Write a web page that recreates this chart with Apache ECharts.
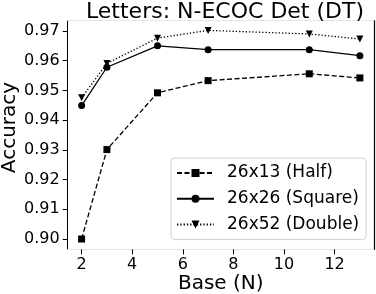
<!DOCTYPE html>
<html>
<head>
<meta charset="utf-8">
<script src="https://cdn.jsdelivr.net/npm/echarts@6/dist/echarts.min.js"></script>
<style>
html,body{margin:0;padding:0;background:#fff;}
#c{width:376px;height:294px;}
</style>
</head>
<body>
<div id="c"></div>
<script>
const baseN = [2, 3, 5, 7, 11, 13];
const half = [0.9000, 0.9301, 0.9492, 0.9533, 0.9556, 0.9542];
const square = [0.9449, 0.9578, 0.9650, 0.9637, 0.9637, 0.9617];
const double = [0.9475, 0.9591, 0.9676, 0.9702, 0.9690, 0.9673];
const xTicks = [2, 4, 6, 8, 10, 12];
const yTicks = [0.90, 0.91, 0.92, 0.93, 0.94, 0.95, 0.96, 0.97];
const seriesNames = ['26x13 (Half)', '26x26 (Square)', '26x52 (Double)'];

const FONT = 'DejaVu Sans';
const pair = arr => baseN.map((x, i) => [x, arr[i]]);

const chart = echarts.init(document.getElementById('c'), null, {renderer: 'canvas'});
chart.setOption({
  animation: false,
  backgroundColor: '#fff',
  title: {
    text: 'Letters: N-ECOC Det (DT)',
    left: 220, textAlign: 'center', top: -4,
    textStyle: {fontFamily: FONT, fontSize: 22, fontWeight: 'normal', color: '#000'}
  },
  grid: {left: 67.7, right: 2.2, top: 20.6, bottom: 44.6, containLabel: false, outerBoundsMode: 'none'},
  xAxis: [{
    type: 'value', min: 1.45, max: 13.55,
    name: 'Base (N)', nameLocation: 'middle', nameGap: 24, nameMoveOverlap: false,
    nameTextStyle: {fontFamily: FONT, fontSize: 20, color: '#000'},
    axisLine: {show: true, onZero: false, lineStyle: {color: '#e6e6e6', width: 1}},
    axisTick: {show: true, length: 5, customValues: xTicks, lineStyle: {color: '#000', width: 1}},
    axisLabel: {customValues: xTicks, margin: 7, fontFamily: FONT, fontSize: 16, color: '#000'},
    splitLine: {show: false}
  }, {
    type: 'value', position: 'top', min: 1.45, max: 13.55,
    axisLine: {show: true, onZero: false, lineStyle: {color: '#e6e6e6', width: 1}},
    axisTick: {show: false}, axisLabel: {show: false}, splitLine: {show: false}
  }],
  yAxis: [{
    type: 'value', min: 0.8965, max: 0.9735,
    name: 'Accuracy', nameLocation: 'middle', nameGap: 48, nameRotate: 90, nameMoveOverlap: false,
    nameTextStyle: {fontFamily: FONT, fontSize: 20, color: '#000', padding: [0, 0, 0, 15]},
    axisLine: {show: true, onZero: false, lineStyle: {color: '#000', width: 1}},
    axisTick: {show: true, length: 5, customValues: yTicks, lineStyle: {color: '#000', width: 1}},
    axisLabel: {customValues: yTicks, margin: 8, fontFamily: FONT, fontSize: 16, color: '#000',
      formatter: v => v.toFixed(2)},
    splitLine: {show: false}
  }, {
    type: 'value', position: 'right', min: 0.8965, max: 0.9735,
    axisLine: {show: true, onZero: false, lineStyle: {color: '#000', width: 1.2}},
    axisTick: {show: false}, axisLabel: {show: false}, splitLine: {show: false}
  }],
  legend: {
    orient: 'vertical', left: 171, top: 158,
    padding: [6, 7, 6, 5], itemGap: 7.8, itemWidth: 37, itemHeight: 10,
    borderColor: '#d0d0d0', borderWidth: 1, borderRadius: 4,
    backgroundColor: 'rgba(255,255,255,0.85)',
    textStyle: {fontFamily: FONT, fontSize: 17, color: '#000', padding: [0, 0, 0, 8], lineHeight: 18},
    data: seriesNames
  },
  series: [{
    name: seriesNames[0], type: 'line', data: pair(half),
    symbol: 'rect', symbolSize: 7,
    itemStyle: {color: '#000'},
    lineStyle: {color: '#000', width: 1.3, type: [5, 2.5]}
  }, {
    name: seriesNames[1], type: 'line', data: pair(square),
    symbol: 'circle', symbolSize: 7,
    itemStyle: {color: '#000'},
    lineStyle: {color: '#000', width: 1.3, type: 'solid'}
  }, {
    name: seriesNames[2], type: 'line', data: pair(double),
    symbol: 'triangle', symbolRotate: 180, symbolSize: 7,
    itemStyle: {color: '#000'},
    lineStyle: {color: '#000', width: 1.3, type: [1.3, 2]}
  }]
});
</script>
</body>
</html>
